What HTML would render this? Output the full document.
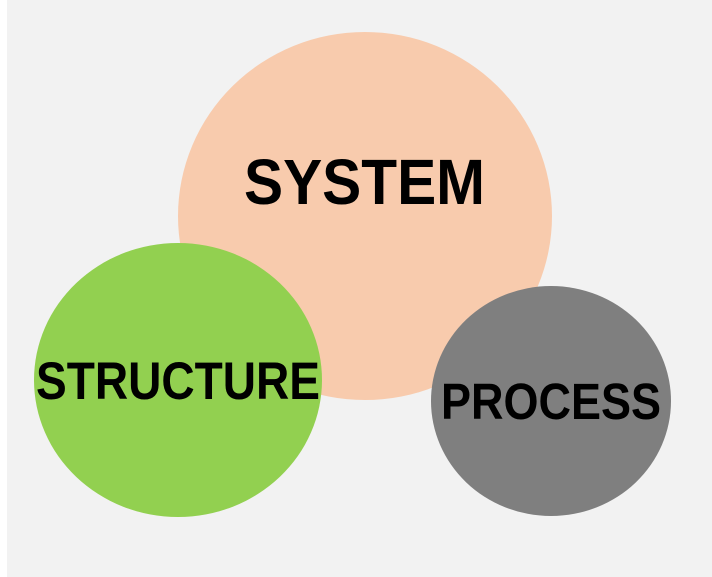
<!DOCTYPE html>
<html><head><style>html,body{margin:0;padding:0;background:#fff;}svg{display:block}</style></head>
<body>
<svg width="712" height="577" viewBox="0 0 712 577" xmlns="http://www.w3.org/2000/svg">
<rect x="7" y="0" width="705" height="577" fill="#f2f2f2"/>
<ellipse cx="365" cy="216" rx="187" ry="184" fill="#f8cbad"/>
<ellipse cx="178" cy="380" rx="144" ry="137" fill="#92d050"/>
<ellipse cx="551" cy="401" rx="120" ry="115" fill="#7f7f7f"/>
<g font-family="Liberation Sans, sans-serif" font-weight="bold" fill="#000">
<text x="244" y="204" font-size="64" textLength="241" lengthAdjust="spacingAndGlyphs">SYSTEM</text>
<text x="36" y="399" font-size="53" textLength="284" lengthAdjust="spacingAndGlyphs">STRUCTURE</text>
<text x="441" y="419" font-size="51" textLength="220" lengthAdjust="spacingAndGlyphs">PROCESS</text>
</g>
</svg>
</body></html>
